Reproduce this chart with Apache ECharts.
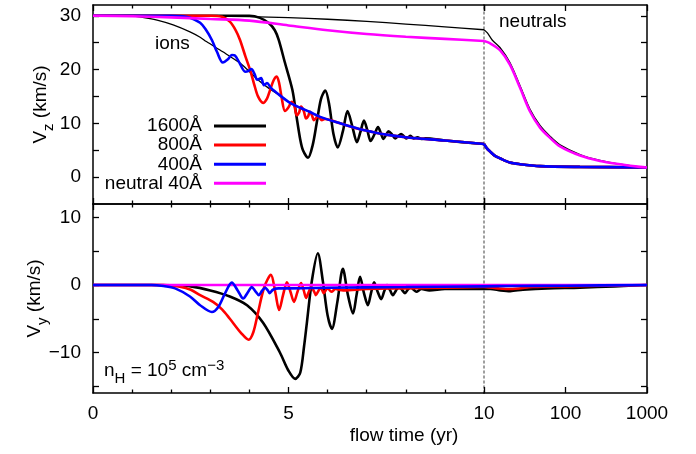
<!DOCTYPE html>
<html><head><meta charset="utf-8">
<script src="https://cdn.jsdelivr.net/npm/echarts@6/dist/echarts.min.js"></script>
<style>html,body{margin:0;padding:0;background:#fff}#c{width:696px;height:454px}</style>
</head><body><div id="c"></div>
<script>
// ---------- data (time in yr, velocity in km/s) ----------
const legendNames = ['1600Å', '800Å', '400Å', 'neutral 40Å'];
const vzTicks = [0, 5, 10, 15, 20, 25, 30];
const vzLabels = [0, 10, 20, 30];
const vyTicks = [-15, -10, -5, 0, 5, 10];
const vyLabels = [-10, 0, 10];

// top panel: Vz
const vzNeutral1600 = [[0,30],[2,30],[3,29.95],[4,29.85],[5,29.65],[6,29.35],[7,28.95],[8,28.45],[9,27.95],[10,27.4],[11,26.8],[12.6,25.5],[15.7,24.1],[20.8,21.3],[27.7,17.0],[36.7,12.6],[48.7,9.6],[64.5,7.6],[85.6,6.0],[150.7,4.2],[265,3.1],[466,2.4],[820,1.9],[1000,1.8]];
const vzIons40 = [[0,30],[1.0,29.95],[1.2,29.8],[1.64,29.2],[2.05,28.3],[2.48,27.0],[2.74,26.0],[2.9,25.2],[3.32,23.3],[3.76,21.2],[3.96,19.9],[4.2,18.2],[4.5,16.5],[4.78,15.2],[5.04,13.8],[5.3,12.9],[5.55,12.1],[5.81,11.2],[6.32,10.0]];
const vzIons1600 = [[0,30],[2,30],[4,30],[4.27,29.6],[4.5,28.6],[4.65,27.3],[4.75,25.5],[4.9,21.5],[5.1,16.2],[5.2,11.5],[5.3,7.0],[5.37,5.0],[5.5,3.6],[5.62,6.0],[5.72,10.0],[5.83,14.5],[5.94,16.1],[6.04,13.5],[6.15,8.0],[6.26,5.5],[6.39,8.5],[6.51,12.3],[6.63,9.5],[6.75,6.5],[6.84,8.4],[6.93,10.5],[7.02,8.6],[7.1,6.7],[7.2,8.0],[7.29,9.3],[7.36,8.2],[7.43,7.1],[7.49,7.8],[7.56,8.5],[7.65,7.9],[7.73,7.2],[7.8,7.6],[7.88,8.0],[7.95,7.6],[8.01,7.2],[8.06,7.4],[8.12,7.7],[8.2,7.2],[8.3,7.4],[8.4,7.1],[8.5,7.2],[9,6.8],[10,6.15],[10.8,5.4],[11.8,4.8],[13.5,4.0],[15.7,3.5],[20.8,2.7],[27.7,2.4],[48.7,2.05],[150,1.9],[1000,1.8]];
const vzIons800 = [[0,30],[3,30],[3.3,29.8],[3.5,28.9],[3.65,27.3],[3.76,25.5],[3.9,22.4],[4.02,19.9],[4.12,17.3],[4.22,15.0],[4.35,13.8],[4.45,14.6],[4.53,16.2],[4.62,18.0],[4.7,18.7],[4.76,17.5],[4.82,15.0],[4.91,12.3],[5.0,13.0],[5.08,14.0],[5.15,13.2],[5.21,11.5],[5.27,12.0],[5.32,13.1],[5.39,12.3],[5.45,10.9],[5.5,11.3],[5.55,12.2],[5.6,11.5],[5.65,10.6],[5.7,10.9],[5.75,11.4],[5.8,11.0],[5.85,10.6],[5.93,10.8],[6.32,10.0],[6.83,8.9],[7.08,8.5],[7.5,7.9],[8,7.4],[9,6.8],[10,6.15],[10.8,5.4],[11.8,4.8],[13.5,4.0],[15.7,3.5],[20.8,2.7],[27.7,2.4],[48.7,2.05],[150,1.9],[1000,1.8]];
const vzIons400 = [[0,30],[2,30],[2.3,29.9],[2.5,29.6],[2.74,28.7],[2.88,27.5],[3.04,25.5],[3.17,23.3],[3.32,21.3],[3.45,21.9],[3.55,22.7],[3.63,22.6],[3.75,21.2],[3.89,19.6],[3.97,19.7],[4.05,20.1],[4.13,19.2],[4.2,18.1],[4.3,18.4],[4.37,17.1],[4.45,17.5],[4.55,16.6],[4.78,15.2],[5.04,13.8],[5.3,12.9],[5.55,12.1],[5.81,11.2],[6.32,10.0],[6.83,8.9],[7.08,8.5],[7.5,7.9],[8,7.4],[9,6.8],[10,6.15],[10.8,5.4],[11.8,4.8],[13.5,4.0],[15.7,3.5],[20.8,2.7],[27.7,2.4],[48.7,2.05],[150,1.9],[1000,1.8]];
const vzNeutral40 = [[0,30],[1,29.9],[2,29.7],[3,29.4],[4,29.1],[5,28.2],[6,27.3],[7,26.6],[8,26.1],[9,25.7],[10,25.3],[11.8,24.9],[15.7,23.6],[20.8,20.9],[27.7,16.6],[36.7,12.2],[48.7,9.2],[64.5,7.3],[85.6,5.7],[150.7,4.0],[265,3.0],[466,2.4],[820,1.9],[1000,1.8]];

// bottom panel: Vy
const vyIons1600 = [[0,0],[1.5,0],[2,-0.05],[2.5,-0.2],[3.0,-0.8],[3.5,-1.7],[3.94,-3.0],[4.35,-5.6],[4.78,-10.0],[5.0,-12.7],[5.17,-13.9],[5.3,-13.0],[5.4,-9.0],[5.47,-5.6],[5.6,0.7],[5.75,4.7],[5.88,0.5],[6.0,-4.5],[6.11,-6.5],[6.25,-2.5],[6.39,2.4],[6.52,-1.5],[6.65,-4.2],[6.74,-1.5],[6.83,1.2],[6.93,-1.2],[7.03,-3.0],[7.11,-1.2],[7.19,0.4],[7.28,-1.0],[7.37,-2.1],[7.45,-0.9],[7.52,0.0],[7.6,-0.8],[7.67,-1.5],[7.75,-0.8],[7.83,-0.2],[7.9,-0.7],[7.98,-1.2],[8.05,-0.7],[8.12,-0.3],[8.2,-0.7],[8.27,-1.0],[8.4,-0.6],[8.6,-0.8],[9,-0.6],[10,-0.6],[12,-0.6],[16,-0.8],[21,-0.9],[30,-0.7],[60,-0.5],[150,-0.4],[400,-0.2],[1000,0]];
const vyIons800 = [[0,0],[1.8,0],[2.22,-0.25],[2.5,-0.7],[2.74,-1.5],[3.07,-2.5],[3.3,-3.6],[3.5,-5.0],[3.8,-7.2],[3.98,-8.1],[4.1,-7.0],[4.22,-4.1],[4.38,-0.3],[4.55,1.5],[4.66,-1.0],[4.76,-3.7],[4.86,-1.5],[4.96,0.4],[5.05,-1.0],[5.14,-2.5],[5.23,-1.0],[5.32,0.3],[5.39,-0.8],[5.45,-1.9],[5.52,-1.0],[5.58,-0.3],[5.65,-0.9],[5.7,-1.5],[5.77,-0.8],[5.83,-0.4],[5.9,-1.2],[6.0,-0.5],[6.1,-1.0],[6.2,-0.6],[6.4,-0.8],[7,-0.6],[8,-0.5],[9,-0.4],[10,-0.3],[15,-0.5],[21,-0.6],[40,-0.3],[100,-0.2],[1000,0]];
const vyIons400 = [[0,0],[1.5,0],[1.8,-0.15],[2.1,-0.5],[2.48,-1.7],[2.74,-3.0],[3.04,-4.0],[3.2,-3.3],[3.38,-1.2],[3.55,0.35],[3.7,-0.8],[3.84,-2.0],[3.97,-1.0],[4.06,-0.3],[4.15,-0.9],[4.24,-1.5],[4.33,-0.8],[4.4,-0.4],[4.47,-0.8],[4.52,-1.2],[4.6,-0.7],[4.75,-0.5],[5,-0.5],[6,-0.4],[8,-0.3],[10,-0.2],[20,-0.15],[100,-0.1],[1000,0]];
const vyNeutral40 = [[0,0],[10,0],[1000,0]];

// ---------- layout / style ----------
const FONT = '"Liberation Sans", Arial, sans-serif';
const BLACK = '#000000', RED = '#ff0000', BLUE = '#0000ff', MAGENTA = '#ff00ff';
const THICK = 2.6, THIN = 1.3;
const legendTops = [116.5, 135.5, 154.8, 173.8];

const lin = d => d.filter(p => p[0] <= 10);
const lg = d => d.filter(p => p[0] >= 10);
const minus = v => (v < 0 ? '\u2212' + (-v) : String(v));

const rich = {
  a:   {fontSize: 19, lineHeight: 24, verticalAlign: 'middle', fontFamily: FONT, color: '#000', fill: '#000'},
  sub: {fontSize: 15, lineHeight: 24, verticalAlign: 'middle', padding: [16, 0, 0, 0], fontFamily: FONT, color: '#000', fill: '#000'},
  sup: {fontSize: 15, lineHeight: 24, verticalAlign: 'middle', padding: [0, 0, 11, 0], fontFamily: FONT, color: '#000', fill: '#000'}
};
const lineBlack = {color: '#000', width: 1.5};
const tickStyle = {color: '#000', width: 1.3};
const labelStyle = {fontSize: 19, fontFamily: FONT, color: '#000'};

function linX(grid, pos, showLabel, extra) {
  return Object.assign({
    type: 'value', gridIndex: grid, position: pos, min: 0, max: 10, interval: 5,
    axisLine: {show: true, onZero: false, lineStyle: lineBlack},
    axisTick: {show: true, inside: true, length: 6, lineStyle: tickStyle},
    minorTick: {show: true, splitNumber: 5, length: 3.5, lineStyle: tickStyle},
    splitLine: {show: false}, minorSplitLine: {show: false},
    axisLabel: Object.assign({show: showLabel, margin: 11}, labelStyle)
  }, extra || {});
}
function logX(grid, pos, showLabel) {
  return {
    type: 'log', logBase: 10, gridIndex: grid, position: pos, min: 10, max: 1000,
    axisLine: {show: true, onZero: false, lineStyle: lineBlack},
    axisTick: {show: true, inside: true, length: 6, lineStyle: tickStyle},
    splitLine: {show: false},
    axisLabel: Object.assign({show: showLabel, margin: 11, showMinLabel: false,
      formatter: v => String(Math.round(v))}, labelStyle)
  };
}
function yAx(grid, pos, min, max, ticks, labels, showLabel, extra) {
  return Object.assign({
    type: 'value', gridIndex: grid, position: pos, min: min, max: max,
    axisLine: {show: true, onZero: false, lineStyle: lineBlack},
    axisTick: {show: true, inside: true, length: 6, customValues: ticks, lineStyle: tickStyle},
    axisLabel: Object.assign({show: showLabel, customValues: labels, margin: 12, formatter: minus}, labelStyle),
    splitLine: {show: false}
  }, extra || {});
}
function divider(grid, min, max) {
  return {
    type: 'value', gridIndex: grid, position: 'left', min: min, max: max,
    axisLine: {show: true, onZero: false, lineStyle: {color: '#808080', width: 1.5, type: [2, 3]}},
    axisTick: {show: false}, axisLabel: {show: false}, splitLine: {show: false}
  };
}

function pair(name, d, color, width, panel) {
  const base = {
    type: 'line', name: name, showSymbol: false, symbol: 'none', smooth: 0.3,
    color: color, lineStyle: {color: color, width: width}, itemStyle: {color: color},
    emphasis: {disabled: true}, silent: true, animation: false
  };
  return [
    Object.assign({}, base, {xAxisIndex: panel ? 4 : 0, yAxisIndex: panel ? 3 : 0, data: lin(d)}),
    Object.assign({}, base, {xAxisIndex: panel ? 6 : 2, yAxisIndex: panel ? 4 : 1, data: lg(d)})
  ];
}

const grids = [
  {left: 93, top: 5, width: 391, height: 199},
  {left: 484, top: 5, width: 163, height: 199},
  {left: 93, top: 204, width: 391, height: 189},
  {left: 484, top: 204, width: 163, height: 189}
].map(g => Object.assign(g, {containLabel: false, outerBoundsMode: 'none'}));

const option = {
  backgroundColor: '#fff',
  animation: false,
  textStyle: {fontFamily: FONT},
  grid: grids,
  xAxis: [
    linX(0, 'bottom', false), linX(0, 'top', false),
    logX(1, 'bottom', false), logX(1, 'top', false),
    linX(2, 'bottom', true, {name: 'flow time (yr)', nameLocation: 'middle', nameGap: 33, nameMoveOverlap: false,
      nameTextStyle: {fontSize: 19, fontFamily: FONT, color: '#000', padding: [0, 0, 0, 231]}}),
    linX(2, 'top', false),
    logX(3, 'bottom', true), logX(3, 'top', false)
  ],
  yAxis: [
    yAx(0, 'left', -5, 32, vzTicks, vzLabels, true, {name: '{a|V}{sub|z}{a| (km/s)}', nameLocation: 'middle', nameGap: 40,
      nameMoveOverlap: false, nameTextStyle: {fontSize: 19, fontFamily: FONT, color: '#000', rich: rich}}),
    yAx(1, 'right', -5, 32, vzTicks, vzLabels, false),
    divider(1, -5, 32),
    yAx(2, 'left', -16, 12, vyTicks, vyLabels, true, {name: '{a|V}{sub|y}{a| (km/s)}', nameLocation: 'middle', nameGap: 46,
      nameMoveOverlap: false, nameTextStyle: {fontSize: 19, fontFamily: FONT, color: '#000', rich: rich}}),
    yAx(3, 'right', -16, 12, vyTicks, vyLabels, false),
    divider(3, -16, 12)
  ],
  legend: legendNames.map((n, i) => ({
    data: [n], right: 430, top: legendTops[i], orient: 'vertical', align: 'right',
    icon: 'rect', itemWidth: 52, itemHeight: 3, itemStyle: {borderWidth: 0},
    selectedMode: false, padding: 0,
    textStyle: {fontSize: 19, fontFamily: FONT, color: '#000', padding: [0, 7, 0, 0]}
  })),
  graphic: [
    {type: 'text', x: 155, y: 43.5, silent: true,
      style: {text: 'ions', fontSize: 19, fontFamily: FONT, fill: '#000', verticalAlign: 'middle'}},
    {type: 'text', x: 499, y: 21.7, silent: true,
      style: {text: 'neutrals', fontSize: 19, fontFamily: FONT, fill: '#000', verticalAlign: 'middle'}},
    {type: 'text', x: 104, y: 359, silent: true,
      style: {text: '{a|n}{sub|H}{a| = 10}{sup|5}{a| cm}{sup|\u22123}', rich: rich, verticalAlign: 'top', fontSize: 19, fontFamily: FONT, fill: '#000'}}
  ],
  series: [].concat(
    pair('neutral 1600Å', vzNeutral1600, BLACK, THIN, 0),
    pair('ions 40Å', vzIons40, BLACK, THIN, 0),
    pair(legendNames[0], vzIons1600, BLACK, THICK, 0),
    pair(legendNames[1], vzIons800, RED, THICK, 0),
    pair(legendNames[2], vzIons400, BLUE, THICK, 0),
    pair(legendNames[3], vzNeutral40, MAGENTA, THICK, 0),
    pair(legendNames[0], vyIons1600, BLACK, THICK, 1),
    pair(legendNames[1], vyIons800, RED, THICK, 1),
    pair(legendNames[3], vyNeutral40, MAGENTA, THICK, 1),
    pair(legendNames[2], vyIons400, BLUE, THICK, 1)
  )
};

const chart = echarts.init(document.getElementById('c'), null, {renderer: 'canvas'});
chart.setOption(option);
</script>
</body></html>
